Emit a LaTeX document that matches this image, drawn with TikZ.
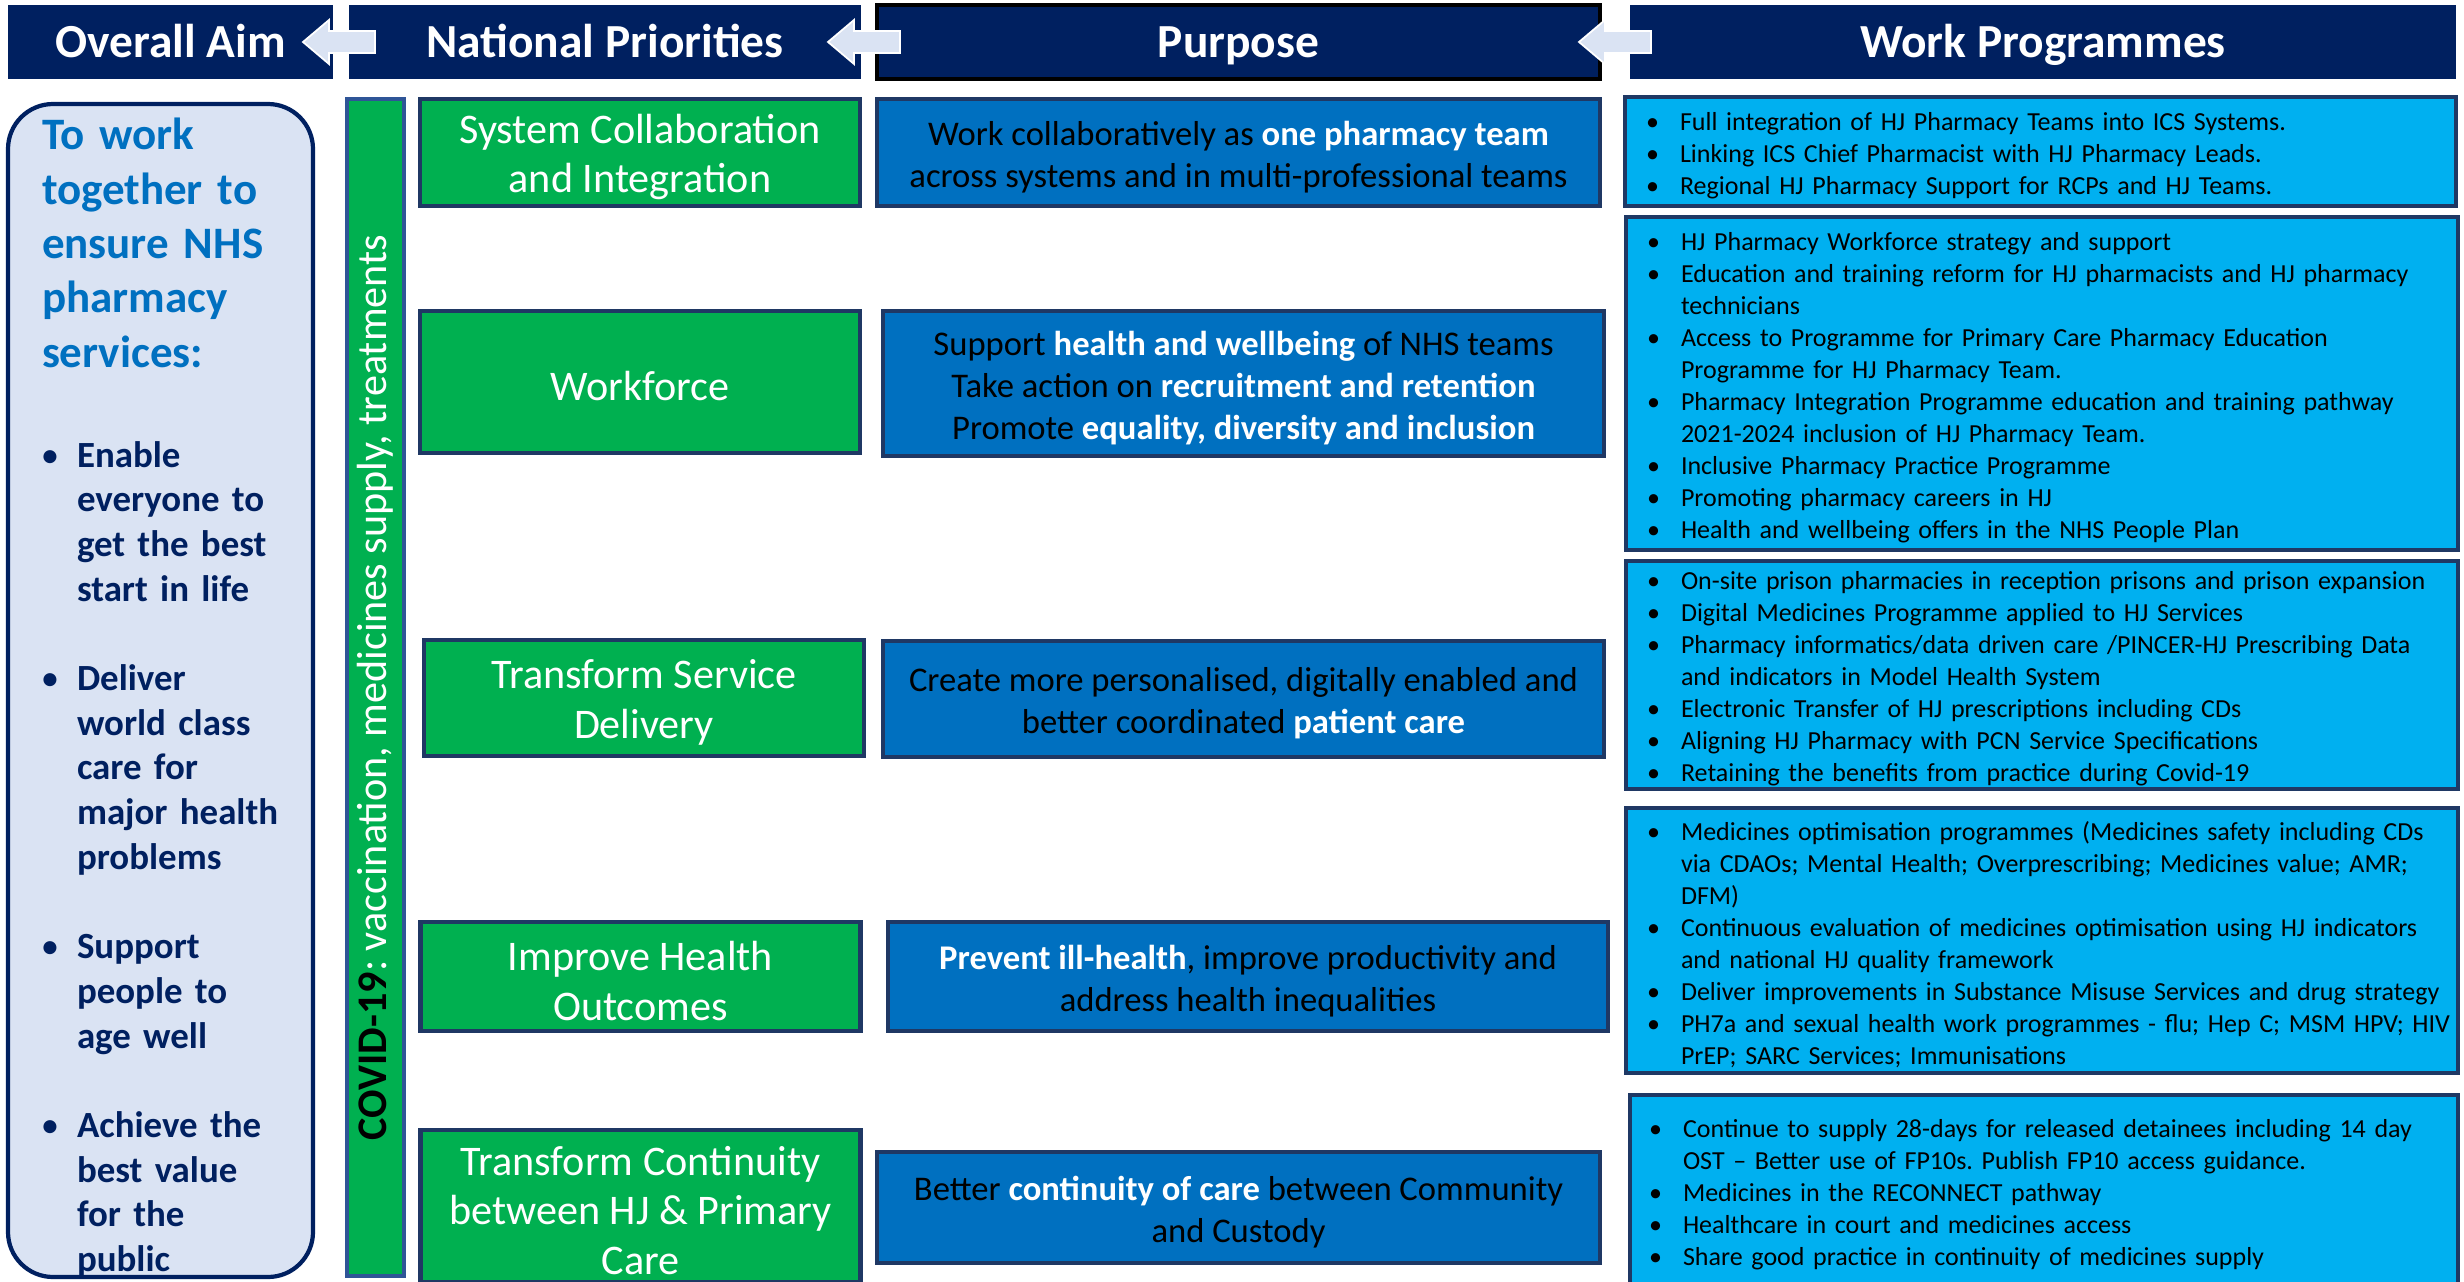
\documentclass[tikz,border=0pt]{standalone}
\usepackage{fontspec}
\setmainfont{Carlito}
\usetikzlibrary{calc}

\definecolor{navy}{HTML}{002060}
\definecolor{aimfill}{HTML}{DAE3F3}
\definecolor{prgreen}{HTML}{00B050}
\definecolor{purblue}{HTML}{0070C0}
\definecolor{wpblue}{HTML}{00B0F0}
\definecolor{edgeblue}{HTML}{2F5597}
\definecolor{boxedge}{HTML}{1F3864}

\newcommand{\wb}[1]{\textcolor{white}{\textbf{#1}}}
\newcommand{\bul}{\makebox[3.4mm][l]{\textbullet}}
\newcommand{\cont}{\hspace*{3.4mm}}
\newcommand{\abul}{\makebox[3.6mm][l]{\mdseries\textbullet}}
\newcommand{\acont}{\hspace*{3.6mm}}
\frenchspacing

\begin{document}
\begin{tikzpicture}[x=0.1mm,y=-0.1mm]
	\tikzstyle{every node}+=[inner sep=0pt, outer sep=0pt]
	\tikzstyle{hdr}=[fill=navy, text=white, minimum height=7.4mm, text height=9.5pt, text depth=0.8pt, font=\fontsize{13.5}{16}\selectfont\bfseries]
	\tikzstyle{backarrow}=[fill=aimfill, draw=white, line width=0.5pt]
	\tikzstyle{aimbox}=[draw=navy, fill=aimfill, line width=1.2pt, rounded corners=4.5mm, minimum width=30.5mm, minimum height=117.3mm]
	\tikzstyle{covidbar}=[draw=edgeblue, fill=prgreen, line width=1pt, minimum width=117.7mm, minimum height=5.7mm, font=\fontsize{12}{14}\selectfont]
	\tikzstyle{npbox}=[draw=boxedge, fill=prgreen, line width=1.2pt, minimum width=44mm]
	\tikzstyle{nptext}=[text=white, align=center, yshift=-0.45mm, font=\fontsize{12}{14.2}\selectfont]
	\tikzstyle{purbox}=[draw=boxedge, fill=purblue, line width=1.2pt]
	\tikzstyle{purtext}=[align=center, yshift=-0.45mm, font=\fontsize{9.85}{11.9}\selectfont]
	\tikzstyle{wpbox}=[draw=boxedge, fill=wpblue, line width=1.2pt, anchor=north west]
	\tikzstyle{wptext}=[anchor=west, align=left, text width=84mm, font=\fontsize{7.4}{9.1}\selectfont]
	\useasboundingbox (0,0) rectangle (2464,1281);

	\node[hdr, minimum width=32.5mm] (aimhdr) at (170.5,42) {Overall Aim};
	\node[hdr, minimum width=51.2mm] (nphdr) at (605,42) {National Priorities};
	\node[hdr, minimum width=72.3mm, draw=black, line width=1pt] (purphdr) at (1238.5,42) {Purpose};
	\node[hdr, minimum width=82.6mm] (wphdr) at (2043,42) {Work Programmes};
	\draw [backarrow] ($(aimhdr.east)+(-30,0)$) -- ++(26,-22) -- ++(0,11) -- ++(46,0) -- ++(0,22) -- ++(-46,0) -- ++(0,11) -- cycle;
	\draw [backarrow] ($(nphdr.east)+(-33,0)$) -- ++(26,-22) -- ++(0,11) -- ++(46,0) -- ++(0,22) -- ++(-46,0) -- ++(0,11) -- cycle;
	\draw [backarrow] ($(purphdr.east)+(-21,0)$) -- ++(26,-22) -- ++(0,11) -- ++(46,0) -- ++(0,22) -- ++(-46,0) -- ++(0,11) -- cycle;

	\node[aimbox] (aim) at (160.5,690.5) {};
	\node[anchor=base west, align=left, text width=26mm, text=purblue, font=\fontsize{12.8}{15.45}\selectfont\bfseries] (aimtitle) at (42,150) {To work\\together to\\ensure NHS\\pharmacy\\services:};
	\node[anchor=base west, align=left, text width=27mm, text=navy, font=\fontsize{10.5}{12.72}\selectfont\bfseries] (aimlist) at (41,467) {\abul Enable\\\acont everyone to\\\acont get the best\\\acont start in life\\[4.47mm]
		\abul Deliver\\\acont world class\\\acont care for\\\acont major health\\\acont problems\\[4.47mm]
		\abul Support\\\acont people to\\\acont age well\\[4.47mm]
		\abul Achieve the\\\acont best value\\\acont for the\\\acont public};

	\node[covidbar, rotate=90] (covid) at (375.5,687.5) {\textbf{COVID-19}\textcolor{white}{: vaccination, medicines supply, treatments}};

	\node[npbox, minimum height=10.7mm] (np1) at (640,152.5) {};
	\node[npbox, minimum height=14.2mm] (np2) at (640,382) {};
	\node[npbox, minimum height=11.6mm] (np3) at (644,698) {};
	\node[npbox, minimum height=10.9mm] (np4) at (640.5,976.5) {};
	\node[npbox, minimum height=15.2mm] (np5) at (640.5,1206) {};
	\node[nptext] (np1t) at (np1) {System Collaboration\\and Integration};
	\node[nptext] (np2t) at (np2) {Workforce};
	\node[nptext] (np3t) at (np3) {Transform Service\\Delivery};
	\node[nptext] (np4t) at (np4) {Improve Health\\Outcomes};
	\node[nptext] (np5t) at (np5) {Transform Continuity\\between HJ \& Primary\\Care};

	\node[purbox, minimum width=72.3mm, minimum height=10.7mm] (pu1) at (1238.5,152.5) {};
	\node[purbox, minimum width=72.1mm, minimum height=14.5mm] (pu2) at (1243.5,383.5) {};
	\node[purbox, minimum width=72.1mm, minimum height=11.6mm] (pu3) at (1243.5,699) {};
	\node[purbox, minimum width=72mm, minimum height=10.9mm] (pu4) at (1248,976.5) {};
	\node[purbox, minimum width=72.3mm, minimum height=11.1mm] (pu5) at (1238.5,1207.5) {};
	\node[purtext] (pu1t) at (pu1) {Work collaboratively as \wb{one pharmacy team}\\across systems and in multi-professional teams};
	\node[purtext] (pu2t) at (pu2) {Support \wb{health and wellbeing} of NHS teams\\Take action on \wb{recruitment and retention}\\Promote \wb{equality, diversity and inclusion}};
	\node[purtext] (pu3t) at (pu3) {Create more personalised, digitally enabled and\\better coordinated \wb{patient care}};
	\node[purtext] (pu4t) at (pu4) {\wb{Prevent ill-health}, improve productivity and\\address health inequalities};
	\node[purtext] (pu5t) at (pu5) {Better \wb{continuity of care} between Community\\and Custody};

	\node[wpbox, minimum width=83.1mm, minimum height=10.9mm] (wp1) at (1625,97) {};
	\node[wpbox, minimum width=83.2mm, minimum height=33.3mm] (wp2) at (1626,217) {};
	\node[wpbox, minimum width=83.2mm, minimum height=22.8mm] (wp3) at (1626,561) {};
	\node[wpbox, minimum width=83.2mm, minimum height=26.5mm] (wp4) at (1626,808) {};
	\node[wpbox, minimum width=82.8mm, minimum height=19.2mm] (wp5) at (1630,1095) {};

	\node[wptext] (wp1t) at ($(wp1.west)+(21,4)$) {\bul Full integration of HJ Pharmacy Teams into ICS Systems.\\
		\bul Linking ICS Chief Pharmacist with HJ Pharmacy Leads.\\
		\bul Regional HJ Pharmacy Support for RCPs and HJ Teams.};
	\node[wptext] (wp2t) at ($(wp2.west)+(21,4)$) {\bul HJ Pharmacy Workforce strategy and support\\
		\bul Education and training reform for HJ pharmacists and HJ pharmacy\\\cont technicians\\
		\bul Access to Programme for Primary Care Pharmacy Education\\\cont Programme for HJ Pharmacy Team.\\
		\bul Pharmacy Integration Programme education and training pathway\\\cont 2021-2024 inclusion of HJ Pharmacy Team.\\
		\bul Inclusive Pharmacy Practice Programme\\
		\bul Promoting pharmacy careers in HJ\\
		\bul Health and wellbeing offers in the NHS People Plan};
	\node[wptext] (wp3t) at ($(wp3.west)+(21,4)$) {\bul On-site prison pharmacies in reception prisons and prison expansion\\
		\bul Digital Medicines Programme applied to HJ Services\\
		\bul Pharmacy informatics/data driven care /PINCER-HJ Prescribing Data\\\cont and indicators in Model Health System\\
		\bul Electronic Transfer of HJ prescriptions including CDs\\
		\bul Aligning HJ Pharmacy with PCN Service Specifications\\
		\bul Retaining the benefits from practice during Covid-19};
	\node[wptext] (wp4t) at ($(wp4.west)+(21,4)$) {\bul Medicines optimisation programmes (Medicines safety including CDs\\\cont via CDAOs; Mental Health; Overprescribing; Medicines value; AMR;\\\cont DFM)\\
		\bul Continuous evaluation of medicines optimisation using HJ indicators\\\cont and national HJ quality framework\\
		\bul Deliver improvements in Substance Misuse Services and drug strategy\\
		\bul PH7a and sexual health work programmes - flu; Hep C; MSM HPV; HIV\\\cont PrEP; SARC Services; Immunisations};
	\node[wptext] (wp5t) at ($(wp5.west)+(19,4)$) {\bul Continue to supply 28-days for released detainees including 14 day\\\cont OST -- Better use of FP10s. Publish FP10 access guidance.\\
		\bul Medicines in the RECONNECT pathway\\
		\bul Healthcare in court and medicines access\\
		\bul Share good practice in continuity of medicines supply};
\end{tikzpicture}
\end{document}
